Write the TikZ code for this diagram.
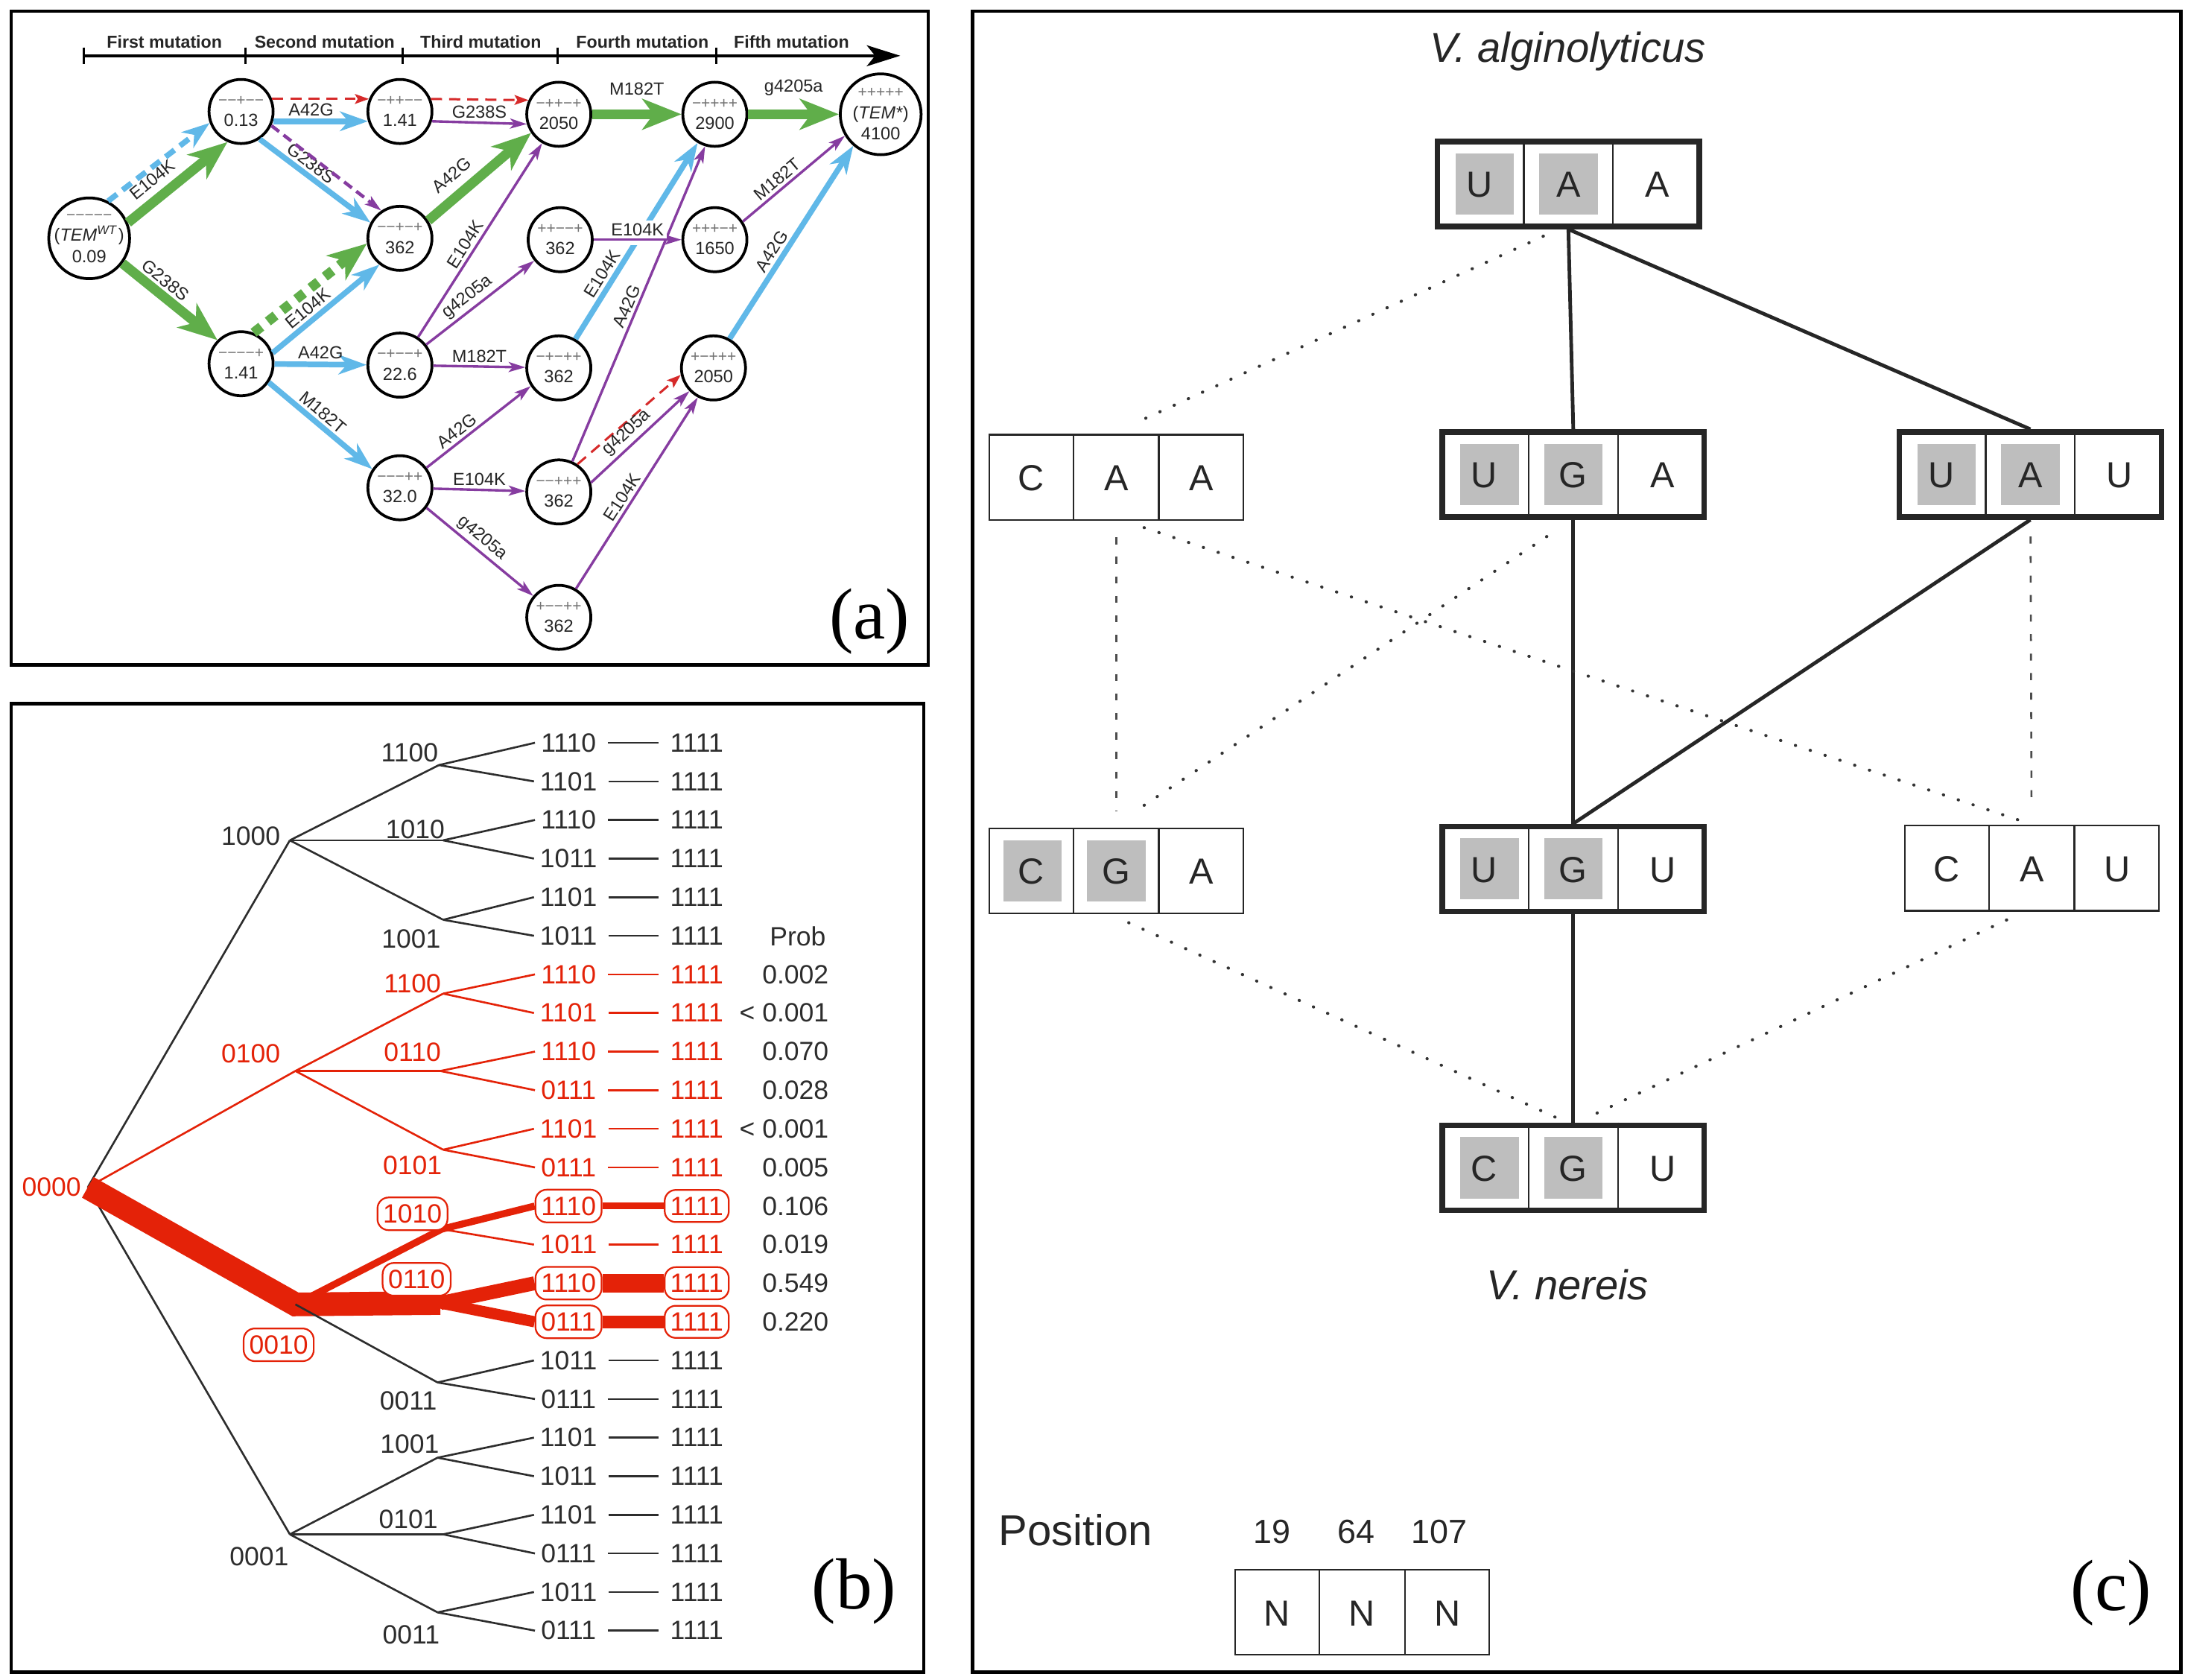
\documentclass[tikz,border=0pt]{standalone}
\usepackage{fontspec}
\setmainfont{Liberation Serif}
\setsansfont{Liberation Sans}
\usetikzlibrary{arrows.meta, calc, positioning, shapes.multipart}
\definecolor{agreen}{RGB}{96,174,74}
\definecolor{ablue}{RGB}{96,184,232}
\definecolor{apurple}{RGB}{134,60,160}
\definecolor{ared}{RGB}{214,42,42}
\definecolor{bred}{RGB}{228,34,8}
\definecolor{tgray}{RGB}{45,45,45}
\definecolor{sgngray}{RGB}{115,115,115}
\definecolor{cellgray}{RGB}{190,190,190}
\newcommand{\signs}[1]{{\color{sgngray}\fontsize{5.6}{7.6}\selectfont #1}}
\newcommand{\cellstrut}{\rule[-10.5pt]{0pt}{30.5pt}}
\newcommand{\leaf}[4]{\node[leaf, text = #4] (c#1) at (408, #2) {#3};
	\node[leaf, text = #4] (f#1) at (500, #2) {1111};
	\draw[draw = #4, line width = 0.7pt, shorten <= 2pt, shorten >= 2pt] (c#1) -- (f#1);}
\newcommand{\codon}[9]{\fill[#8] ($(#2, #3) + (-81, -22)$) rectangle ($(#2, #3) + (-39, 22)$);
	\fill[#9] ($(#2, #3) + (-21, -22)$) rectangle ($(#2, #3) + (21, 22)$);
	\node[#4] (#1) at (#2, #3) {\cellstrut #5\nodepart{two}\cellstrut #6\nodepart{three}\cellstrut #7};
	\draw[cellsep] (#1.one split north) -- (#1.one split south);
	\draw[cellsep] (#1.two split north) -- (#1.two split south);}
\tikzset{
	frame/.style = {draw = black, line width = 1.2pt},
	plab/.style = {font = \rmfamily\fontsize{26}{26}\selectfont},
	state/.style = {circle, draw = black, line width = 1pt, fill = white, minimum size = 23pt, inner sep = 0pt, align = center, text = black!85, font = \sffamily\fontsize{6.3}{7.6}\selectfont},
	bigstate/.style = {state, minimum size = 29pt, inner sep = -1.5pt},
	phase/.style = {font = \sffamily\bfseries\fontsize{6.2}{7}\selectfont, text = black!85},
	axis/.style = {line width = 0.9pt, -{Stealth[length = 12pt, width = 7.5pt, inset = 3pt]}},
	grn/.style = {draw = agreen, line width = 3.5pt, -{Stealth[length = 14pt, width = 11pt, inset = 4pt]}},
	grnd/.style = {grn, dash pattern = on 3.5pt off 3pt},
	blu/.style = {draw = ablue, line width = 2pt, -{Stealth[length = 10pt, width = 7pt, inset = 3pt]}},
	blud/.style = {blu, dash pattern = on 4pt off 2.5pt},
	pur/.style = {draw = apurple, line width = 0.9pt, -{Stealth[length = 6pt, width = 3.6pt, inset = 1.5pt]}},
	purd/.style = {pur, line width = 1.2pt, dash pattern = on 3.5pt off 2pt},
	redd/.style = {draw = ared, line width = 0.8pt, dash pattern = on 4pt off 2.5pt, -{Stealth[length = 5pt, width = 3.5pt, inset = 1pt]}},
	mut/.style = {font = \sffamily\fontsize{6.3}{7}\selectfont, text = black!85, inner sep = 1pt},
	leaf/.style = {font = \sffamily\fontsize{9.5}{11}\selectfont, inner sep = 2pt},
	lab/.style = {leaf, text = tgray},
	boxd/.style = {leaf, text = bred, draw = bred, line width = 0.6pt, fill = white, rounded corners = 4pt, inner xsep = 2pt, inner ysep = 2.5pt},
	prob/.style = {leaf, anchor = east, inner sep = 0pt, text = tgray},
	tb/.style = {draw = tgray, line width = 0.7pt},
	tr/.style = {draw = bred, line width = 0.7pt},
	cbox/.style = {rectangle split, rectangle split horizontal, rectangle split parts = 3, rectangle split draw splits = false, draw = black!85, line width = 0.6pt, text width = 26pt, align = center, inner xsep = 2pt, inner ysep = 0pt, font = \sffamily\fontsize{13}{13}\selectfont, text = black!85},
	cboxb/.style = {cbox, line width = 2pt},
	cellsep/.style = {draw = black!85, line width = 0.6pt},
	base/.style = {font = \sffamily\fontsize{13}{13}\selectfont, text = black!85},
	title/.style = {font = \sffamily\itshape\fontsize{15}{15}\selectfont, text = black!85},
	solidl/.style = {draw = black!85, line width = 1.3pt},
	dotl/.style = {draw = black!80, line width = 1.1pt, dash pattern = on 0.1pt off 5.5pt, line cap = round},
	vdot/.style = {draw = black!70, line width = 0.7pt, dash pattern = on 2.5pt off 4.5pt}
}
\begin{document}
\begin{tikzpicture}[x = 0.5pt, y = -0.5pt]

	\path[use as bounding box, fill = white] (0, 0) rectangle (1568, 1205);
	\draw[frame] (8, 8) rectangle (666, 477);
	\draw[frame] (8, 505) rectangle (663, 1200);
	\draw[frame] (698, 8) rectangle (1565, 1200);

	\node[phase] (ph1) at (118, 30) {First mutation};
	\node[phase] (ph2) at (233, 30) {Second mutation};
	\node[phase] (ph3) at (345, 30) {Third mutation};
	\node[phase] (ph4) at (461, 30) {Fourth mutation};
	\node[phase] (ph5) at (568, 30) {Fifth mutation};
	\coordinate (ax0) at (60, 40);
	\coordinate (ax1) at (646, 40);
	\draw[axis] (ax0) -- (ax1);
	\draw[line width = 0.9pt] (60, 34) -- (60, 46);
	\draw[line width = 0.9pt] (176, 34) -- (176, 46);
	\draw[line width = 0.9pt] (289, 34) -- (289, 46);
	\draw[line width = 0.9pt] (400, 34) -- (400, 46);
	\draw[line width = 0.9pt] (514, 34) -- (514, 46);

	\node[bigstate] (WT) at (64, 171) {\signs{−−−−−}\\(\textit{TEM}\textsuperscript{\textit{WT}})\\0.09};
	\node[state] (n013) at (173, 80) {\signs{−−+−−}\\0.13};
	\node[state] (n141a) at (287, 80) {\signs{−++−−}\\1.41};
	\node[state] (n362a) at (287, 171) {\signs{−−+−+}\\362};
	\node[state] (n141b) at (173, 261) {\signs{−−−−+}\\1.41};
	\node[state] (n226) at (287, 262) {\signs{−+−−+}\\22.6};
	\node[state] (n320) at (287, 350) {\signs{−−−++}\\32.0};
	\node[state] (n2050a) at (401, 82) {\signs{−++−+}\\2050};
	\node[state] (n362b) at (402, 172) {\signs{++−−+}\\362};
	\node[state] (n362c) at (401, 264) {\signs{−+−++}\\362};
	\node[state] (n362d) at (401, 353) {\signs{−−+++}\\362};
	\node[state] (n362e) at (401, 443) {\signs{+−−++}\\362};
	\node[state] (n2900) at (513, 82) {\signs{−++++}\\2900};
	\node[state] (n1650) at (513, 172) {\signs{+++−+}\\1650};
	\node[state] (n2050b) at (512, 264) {\signs{+−+++}\\2050};
	\node[bigstate] (TEMs) at (632, 82) {\signs{+++++}\\(\textit{TEM*})\\4100};

	\draw[blud] (WT.63) -- (n013.200);
	\draw[grn] (WT.22) -- node[mut, sloped, above = 1.5pt, pos = 0.36] {E104K} (n013.246);
	\draw[grn] (WT.-37) -- node[mut, sloped, above, pos = 0.36] {G238S} (n141b.135);
	\draw[redd] (n013.22) -- (n141a.158);
	\draw[blu] (n013.-17) -- node[mut, above, pos = 0.4] {A42G} (n141a.197);
	\draw[blu] (n013.-56) -- node[mut, sloped, above, pos = 0.4] {G238S} (n362a.152);
	\draw[purd] (n013.-25) -- (n362a.124);
	\draw[grnd] (n141b.68) -- (n362a.189);
	\draw[blu] (n141b.19) -- node[mut, sloped, above, pos = 0.4] {E104K} (n362a.232);
	\draw[blu] (n141b) -- node[mut, above] {A42G} (n226);
	\draw[blu] (n141b.-34) -- node[mut, sloped, above, pos = 0.45] {M182T} (n320.146);
	\draw[redd] (n141a.22) -- (n2050a.155);
	\draw[pur] (n141a.-17) -- node[mut, above] {G238S} (n2050a.197);
	\draw[grn] (n362a.32) -- node[mut, sloped, above = 2pt, pos = 0.35] {A42G} (n2050a.214);
	\draw[pur] (n226.57) -- node[mut, sloped, above, pos = 0.45] {E104K} (n2050a.240);
	\draw[pur] (n226.38) -- node[mut, sloped, above, pos = 0.45] {g4205a} (n362b.219);
	\draw[pur] (n226) -- node[mut, above] {M182T} (n362c);
	\draw[pur] (n320.37) -- node[mut, sloped, above, pos = 0.35] {A42G} (n362c.213);
	\draw[pur] (n320) -- node[mut, above] {E104K} (n362d);
	\draw[pur] (n320.-37) -- node[mut, sloped, above, pos = 0.45] {g4205a} (n362e.140);
	\draw[grn] (n2050a) -- node[mut, above = 4pt] {M182T} (n2900);
	\draw[grn] (n2900) -- node[mut, above = 4pt] {g4205a} (TEMs);
	\draw[blu] (n362c.60) -- node[mut, sloped, above, pos = 0.3] {E104K} (n2900.239);
	\draw[pur] (n362d.66) -- node[mut, sloped, above, pos = 0.48] {A42G} (n2900.253);
	\draw[pur] (n1650.33) -- node[mut, sloped, above, pos = 0.4] {M182T} (TEMs.211);
	\draw[blu] (n2050b.61) -- node[mut, sloped, above, pos = 0.42] {A42G} (TEMs.229);
	\draw[redd] (n362d.56) -- (n2050b.192);
	\draw[pur] (n362d.16) -- node[mut, sloped, above, pos = 0.45] {g4205a} (n2050b.224);
	\draw[pur] (n362e.59) -- node[mut, sloped, above, pos = 0.45] {E104K} (n2050b.242);
	\draw[pur, preaction = {draw = white, line width = 4pt, -, shorten <= 4pt, shorten >= 8pt}] (n362b) -- node[mut, above, fill = white] {E104K} (n1650);

	\node[plab] (pa) at (624, 446) {(a)};

	\leaf{0}{533.0}{1110}{tgray}
	\leaf{1}{560.7}{1101}{tgray}
	\leaf{2}{588.4}{1110}{tgray}
	\leaf{3}{616.1}{1011}{tgray}
	\leaf{4}{643.8}{1101}{tgray}
	\leaf{5}{671.5}{1011}{tgray}
	\leaf{6}{699.2}{1110}{bred}
	\leaf{7}{726.9}{1101}{bred}
	\leaf{8}{754.6}{1110}{bred}
	\leaf{9}{782.3}{0111}{bred}
	\leaf{10}{810.0}{1101}{bred}
	\leaf{11}{837.7}{0111}{bred}
	\node[boxd] (c12) at (408, 865.4) {1110};
	\node[boxd] (f12) at (500, 865.4) {1111};
	\draw[bred, line width = 2.5pt] (c12) -- (f12);
	\leaf{13}{893.1}{1011}{bred}
	\node[boxd] (c14) at (408, 920.8) {1110};
	\node[boxd] (f14) at (500, 920.8) {1111};
	\draw[bred, line width = 6.5pt] (c14) -- (f14);
	\node[boxd] (c15) at (408, 948.5) {0111};
	\node[boxd] (f15) at (500, 948.5) {1111};
	\draw[bred, line width = 4.5pt] (c15) -- (f15);
	\leaf{16}{976.2}{1011}{tgray}
	\leaf{17}{1003.9}{0111}{tgray}
	\leaf{18}{1031.6}{1101}{tgray}
	\leaf{19}{1059.3}{1011}{tgray}
	\leaf{20}{1087.0}{1101}{tgray}
	\leaf{21}{1114.7}{0111}{tgray}
	\leaf{22}{1142.4}{1011}{tgray}
	\leaf{23}{1170.1}{0111}{tgray}

	\coordinate (r) at (63, 852);
	\coordinate (j1000) at (208, 603);
	\coordinate (j0100) at (212, 768.5);
	\coordinate (j0010) at (212, 936);
	\coordinate (j0001) at (208, 1101);
	\coordinate (j1100) at (315, 549);
	\coordinate (j1010) at (318, 603);
	\coordinate (j1001) at (318, 660);
	\coordinate (k1100) at (318, 713);
	\coordinate (k0110) at (316, 768.5);
	\coordinate (k0101) at (318, 825);
	\coordinate (m1010) at (317, 882);
	\coordinate (m0110) at (316, 935);
	\coordinate (m0011) at (314, 992);
	\coordinate (q1001) at (314, 1046);
	\coordinate (q0101) at (318, 1101);
	\coordinate (q0011) at (314, 1157);

	\draw[tb] (r) -- (j1000);
	\draw[tr] (r) -- (j0100);
	\draw[tb] (r) -- (j0001);
	\draw[bred, line width = 8.5pt, line join = miter] (r) -- (j0010) -- (m0110);
	\draw[tb] (j1000) -- (j1100);
	\draw[tb] (j1000) -- (j1010);
	\draw[tb] (j1000) -- (j1001);
	\draw[tr] (j0100) -- (k1100);
	\draw[tr] (j0100) -- (k0110);
	\draw[tr] (j0100) -- (k0101);
	\draw[bred, line width = 2.5pt] (j0010) -- (m1010) -- (c12.west);
	\draw[tb] (j0010) -- (m0011);
	\draw[tb] (j0001) -- (q1001);
	\draw[tb] (j0001) -- (q0101);
	\draw[tb] (j0001) -- (q0011);
	\draw[tb] (j1100) -- (c0.west);
	\draw[tb] (j1100) -- (c1.west);
	\draw[tb] (j1010) -- (c2.west);
	\draw[tb] (j1010) -- (c3.west);
	\draw[tb] (j1001) -- (c4.west);
	\draw[tb] (j1001) -- (c5.west);
	\draw[tr] (k1100) -- (c6.west);
	\draw[tr] (k1100) -- (c7.west);
	\draw[tr] (k0110) -- (c8.west);
	\draw[tr] (k0110) -- (c9.west);
	\draw[tr] (k0101) -- (c10.west);
	\draw[tr] (k0101) -- (c11.west);
	\draw[tr] (m1010) -- (c13.west);
	\draw[bred, line width = 5pt] (m0110) -- (c14.west);
	\draw[bred, line width = 4pt] (m0110) -- (c15.west);
	\draw[tb] (m0011) -- (c16.west);
	\draw[tb] (m0011) -- (c17.west);
	\draw[tb] (q1001) -- (c18.west);
	\draw[tb] (q1001) -- (c19.west);
	\draw[tb] (q0101) -- (c20.west);
	\draw[tb] (q0101) -- (c21.west);
	\draw[tb] (q0011) -- (c22.west);
	\draw[tb] (q0011) -- (c23.west);

	\node[lab, text = bred] (l0000) at (37, 852) {0000};
	\node[lab] (l1000) at (180, 600) {1000};
	\node[lab, text = bred] (l0100) at (180, 756) {0100};
	\node[boxd] (l0010) at (200, 965) {0010};
	\node[lab] (l0001) at (186, 1117) {0001};
	\node[lab] (l1100) at (294, 540) {1100};
	\node[lab] (l1010) at (298, 595) {1010};
	\node[lab] (l1001) at (295, 674) {1001};
	\node[lab, text = bred] (lr1100) at (296, 706) {1100};
	\node[lab, text = bred] (lr0110) at (296, 755) {0110};
	\node[lab, text = bred] (lr0101) at (296, 836) {0101};
	\node[boxd] (lm1010) at (296, 871) {1010};
	\node[boxd] (lm0110) at (299, 918) {0110};
	\node[lab] (lm0011) at (293, 1005) {0011};
	\node[lab] (lq1001) at (294, 1036) {1001};
	\node[lab] (lq0101) at (293, 1090) {0101};
	\node[lab] (lq0011) at (295, 1173) {0011};

	\node[prob] (ph) at (593, 672) {Prob};
	\node[prob] (p6) at (595, 699.2) {0.002};
	\node[prob] (p7) at (595, 726.9) {< 0.001};
	\node[prob] (p8) at (595, 754.6) {0.070};
	\node[prob] (p9) at (595, 782.3) {0.028};
	\node[prob] (p10) at (595, 810.0) {< 0.001};
	\node[prob] (p11) at (595, 837.7) {0.005};
	\node[prob] (p12) at (595, 865.4) {0.106};
	\node[prob] (p13) at (595, 893.1) {0.019};
	\node[prob] (p14) at (595, 920.8) {0.549};
	\node[prob] (p15) at (595, 948.5) {0.220};

	\node[plab] (pb) at (613, 1142) {(b)};

	\node[title] (valg) at (1125, 37) {V. alginolyticus};
	\codon{UAA}{1125.5}{132}{cboxb}{U}{A}{A}{cellgray}{cellgray}
	\codon{CAA}{801}{342.5}{cbox}{C}{A}{A}{white}{white}
	\codon{UGA}{1129}{340.5}{cboxb}{U}{G}{A}{cellgray}{cellgray}
	\codon{UAU}{1457}{340.5}{cboxb}{U}{A}{U}{cellgray}{cellgray}
	\codon{CGA}{801}{625}{cbox}{C}{G}{A}{cellgray}{cellgray}
	\codon{UGU}{1129}{623.5}{cboxb}{U}{G}{U}{cellgray}{cellgray}
	\codon{CAU}{1458}{623}{cbox}{C}{A}{U}{white}{white}
	\codon{CGU}{1129}{838}{cboxb}{C}{G}{U}{cellgray}{cellgray}
	\node[title] (vner) at (1125, 922) {V. nereis};

	\draw[solidl] (UAA.south) -- (UGA.north);
	\draw[solidl] (UAA.south) -- (UAU.north);
	\draw[solidl] (UGA.south) -- (UGU.north);
	\draw[solidl] (UAU.south) -- (UGU.north);
	\draw[solidl] (UGU.south) -- (CGU.north);
	\draw[dotl] ($(UAA.south) + (-18, 5)$) -- ($(CAA.north) + (14, -8)$);
	\draw[vdot, shorten <= 6pt, shorten >= 6pt] (CAA) -- (CGA);
	\draw[dotl] ($(CAA.south) + (20, 5)$) -- ($(CAU.north) + (-5, -2)$);
	\draw[dotl] ($(UGA.south) + (-19, 12)$) -- ($(CGA.north) + (14, -12)$);
	\draw[vdot, shorten <= 6pt, shorten >= 6pt] (UAU) -- (CAU);
	\draw[dotl] ($(CGA.south) + (9, 6)$) -- ($(CGU.north) + (-11, -3)$);
	\draw[dotl] ($(CAU.south) + (-18, 6)$) -- ($(CGU.north) + (9, -3)$);

	\node[base, font = \sffamily\fontsize{15.5}{15.5}\selectfont] (posl) at (772, 1098) {Position};
	\node[base, font = \sffamily\fontsize{12}{12}\selectfont] (s19) at (913, 1099) {19};
	\node[base, font = \sffamily\fontsize{12}{12}\selectfont] (s64) at (973, 1099) {64};
	\node[base, font = \sffamily\fontsize{12}{12}\selectfont] (s107) at (1033, 1099) {107};
	\codon{NNN}{977.5}{1157}{cbox}{N}{N}{N}{white}{white}

	\node[plab] (pc) at (1515, 1143) {(c)};

\end{tikzpicture}
\end{document}
